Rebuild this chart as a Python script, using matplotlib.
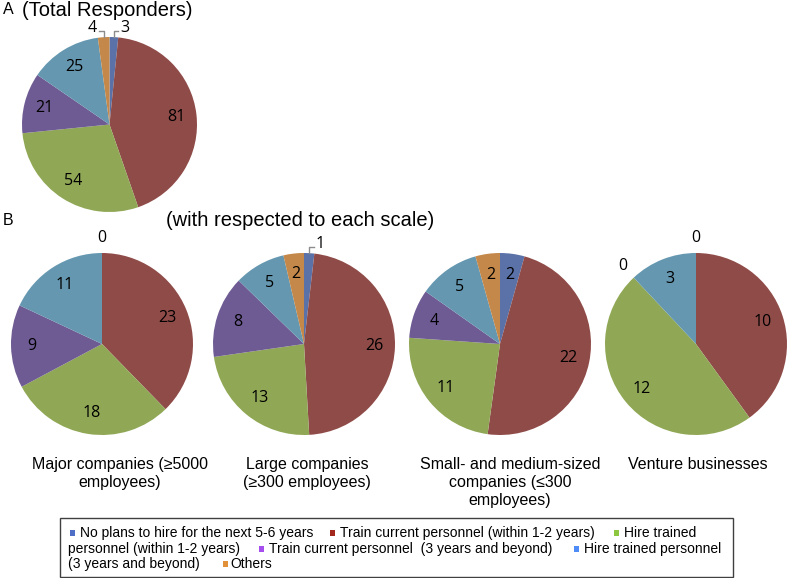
import numpy as np
import matplotlib.pyplot as plt
from matplotlib.patches import Rectangle

W, H = 787, 578

categories = [
    "No plans to hire for the next 5-6 years",
    "Train current personnel (within 1-2 years)",
    "Hire trained personnel (within 1-2 years)",
    "Train current personnel  (3 years and beyond)",
    "Hire trained personnel (3 years and beyond)",
    "Others",
]
total_resp = [3, 81, 54, 21, 25, 4]
major = [0, 23, 18, 9, 11, 0]
large = [1, 26, 13, 8, 5, 2]
small_medium = [2, 22, 11, 4, 5, 2]
venture = [0, 10, 12, 0, 3, 0]

scale_names = [
    "Major companies (\u22655000\nemployees)",
    "Large companies\n(\u2265300 employees)",
    "Small- and medium-sized\ncompanies (\u2264300\nemployees)",
    "Venture businesses",
]

pie_colors = ["#5a72a8", "#8f4b48", "#90a856", "#6e5b93", "#6598b0", "#c4884a"]
legend_colors = ["#4f6fc7", "#a3281e", "#8dc63f", "#a64df0", "#4f8cf7", "#e0913a"]

plt.rcParams['font.family'] = ['Liberation Sans', 'DejaVu Sans']

fig = plt.figure(figsize=(W / 100, H / 100), dpi=100)


def fx(x):
    return x / W


def fy(y):
    return 1 - y / H


def draw_pie(cx, cy, r, values):
    ax = fig.add_axes([fx(cx - r), fy(cy + r), 2 * r / W, 2 * r / H])
    wedges, _ = ax.pie(values, colors=pie_colors, startangle=90, counterclock=False,
                       radius=1, wedgeprops=dict(linewidth=0))
    ax.set_xlim(-1, 1)
    ax.set_ylim(-1, 1)
    ax.axis('off')
    tot = sum(values)
    placed = []
    for w, v in zip(wedges, values):
        mid = np.deg2rad((w.theta1 + w.theta2) / 2)
        c, s = np.cos(mid), np.sin(mid)
        if v == 0:
            px, py = 1.17 * c, 1.17 * s
            if any(abs(px - qx) < 0.1 and abs(py - qy) < 0.1 for qx, qy in placed):
                continue
            placed.append((px, py))
            ax.text(px, py, "0", ha='center', va='center', fontsize=11.5,
                    family='Open Sans', clip_on=False)
        elif v / tot < 0.03:
            sign = 1 if c >= 0 else -1
            ax.plot([c, c, c + sign * 0.05], [s, 1.065, 1.065], color='#8c8c8c',
                    lw=1, clip_on=False)
            ax.text(c + sign * 0.075, 1.1, str(v), ha='left' if sign > 0 else 'right',
                    va='center', fontsize=11.5, family='Open Sans', clip_on=False)
        else:
            ax.text(0.77 * c, 0.77 * s, str(v), ha='center', va='center',
                    fontsize=11.5, family='Open Sans')
    return ax


# panel A
fig.text(fx(3), fy(10), "A", fontsize=11.5, va='center', ha='left')
fig.text(fx(22), fy(11), "(Total Responders)", fontsize=14.5, va='center', ha='left')
draw_pie(109.5, 124.5, 87.5, total_resp)

# panel B
fig.text(fx(3), fy(220), "B", fontsize=11.5, va='center', ha='left')
fig.text(fx(300), fy(221), "(with respected to each scale)", fontsize=14.5,
         va='center', ha='center')

centers = [102, 304, 500, 696]
caption_x = [120, 307, 510, 698]
for cx, vals, name, tx in zip(centers, [major, large, small_medium, venture],
                              scale_names, caption_x):
    draw_pie(cx, 344, 91, vals)
    fig.text(fx(tx), fy(457), name, fontsize=11.5, ha='center', va='top',
             multialignment='center', linespacing=1.25)

# legend box
fig.patches.append(Rectangle((fx(60), fy(577)), (733 - 60) / W, (577 - 518) / H,
                             transform=fig.transFigure, fill=False,
                             edgecolor='#404040', lw=1))

# legend entries laid out as wrapped text: (category index or None, text, x, line)
legend_runs = [
    (0, categories[0], 70, 0),
    (1, categories[1], 330, 0),
    (2, "Hire trained", 614, 0),
    (None, "personnel (within 1-2 years)", 68, 1),
    (3, categories[3], 259, 1),
    (4, "Hire trained personnel", 574, 1),
    (None, "(3 years and beyond)", 68, 2),
    (5, categories[5], 223, 2),
]
line_y = [533, 549, 564]
for idx, txt, x, ln in legend_runs:
    y = line_y[ln]
    if idx is None:
        fig.text(fx(x), fy(y), txt, fontsize=10, ha='left', va='center')
        continue
    fig.patches.append(Rectangle((fx(x), fy(y + 3)), 5 / W, 6 / H,
                                 transform=fig.transFigure,
                                 color=legend_colors[idx], lw=0))
    gap = 10 if idx != 5 else 7
    fig.text(fx(x + gap), fy(y), txt, fontsize=10, ha='left', va='center')

fig.savefig("out.png", dpi=100)
